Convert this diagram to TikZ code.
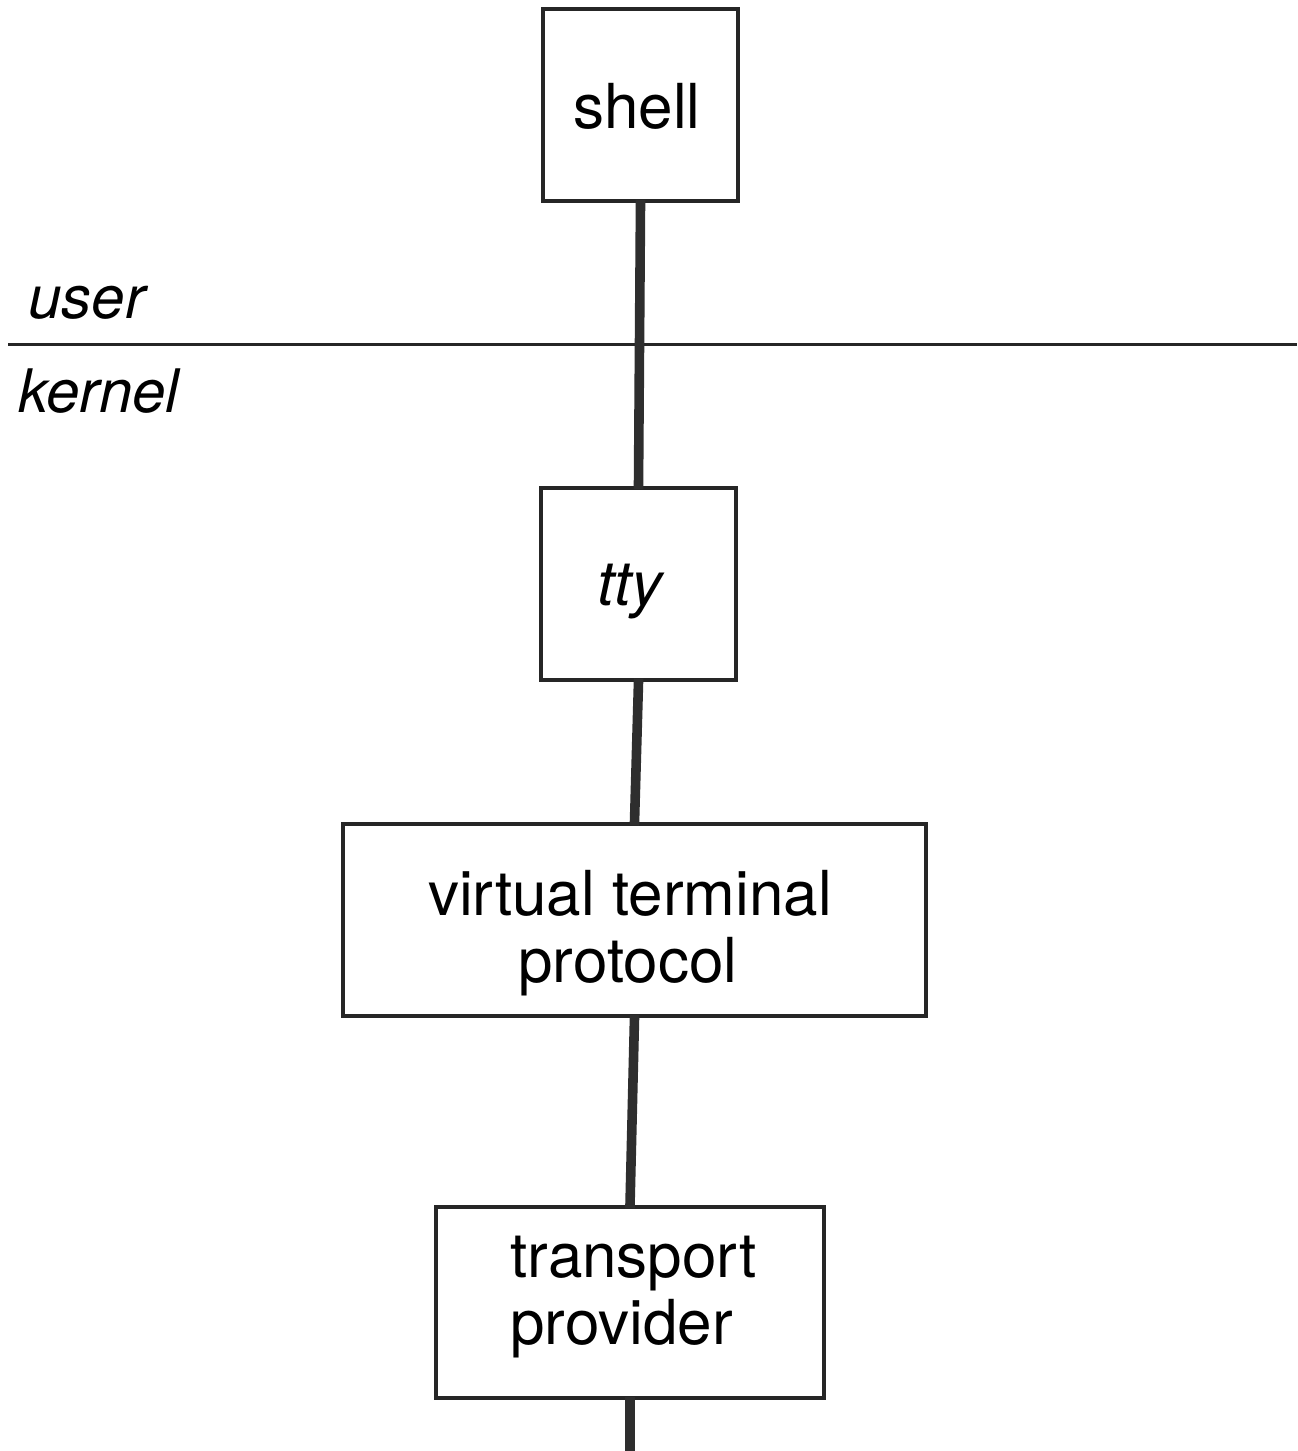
\documentclass[tikz,border=0pt]{standalone}
\usepackage{fontspec}
\setmainfont{TeX Gyre Heros}
\begin{document}
\begin{tikzpicture}[x=0.5pt,y=-0.5pt,
  layer/.style={draw=black!85,line width=1.6pt,fill=white,inner sep=0pt},
  boxtext/.style={anchor=base,inner sep=0pt,font=\fontsize{31}{33}\selectfont},
  link/.style={draw=black!82,line width=4.8pt,shorten >=-1.5pt,shorten <=-1.5pt},
  spacelabel/.style={anchor=base west,inner sep=0pt,font=\fontsize{30}{33}\selectfont\itshape}]
\useasboundingbox (0,0) rectangle (1297,1451);

% user/kernel boundary
\coordinate (bl) at (8,344);
\coordinate (br) at (1297,344);
\draw[line width=1.5pt,black!85] (bl) -- (br);
\node[spacelabel] (user) at (28,318) {user};
\node[spacelabel] (kernel) at (18,412) {kernel};

% stack of modules
\node[layer,minimum width=97.5pt,minimum height=96pt] (shell) at (640.5,105) {};
\node[layer,minimum width=97.5pt,minimum height=96pt] (tty) at (638.5,584) {};
\node[layer,minimum width=291.5pt,minimum height=96pt] (vtp) at (634.5,920) {};
\node[layer,minimum width=194pt,minimum height=95.5pt] (tp) at (630,1302.5) {};
\coordinate (down) at (630,1451);

% module names
\node[boxtext] (shelltxt) at (637,128) {shell};
\node[boxtext] (ttytxt) at (630,605) {\itshape tty};
\node[boxtext] (vtptxta) at (630,915) {virtual terminal};
\node[boxtext] (vtptxtb) at (628,982) {protocol};
\node[boxtext,anchor=base west] (tptxta) at (510,1277) {transport};
\node[boxtext,anchor=base west] (tptxtb) at (510,1344) {provider};

% connections between modules
\draw[link] (shell.south) -- (tty.north);
\draw[link] (tty.south) -- (vtp.north);
\draw[link] (vtp.south) -- (tp.north);
\draw[link,shorten >=0pt] (tp.south) -- (down);
\end{tikzpicture}
\end{document}
